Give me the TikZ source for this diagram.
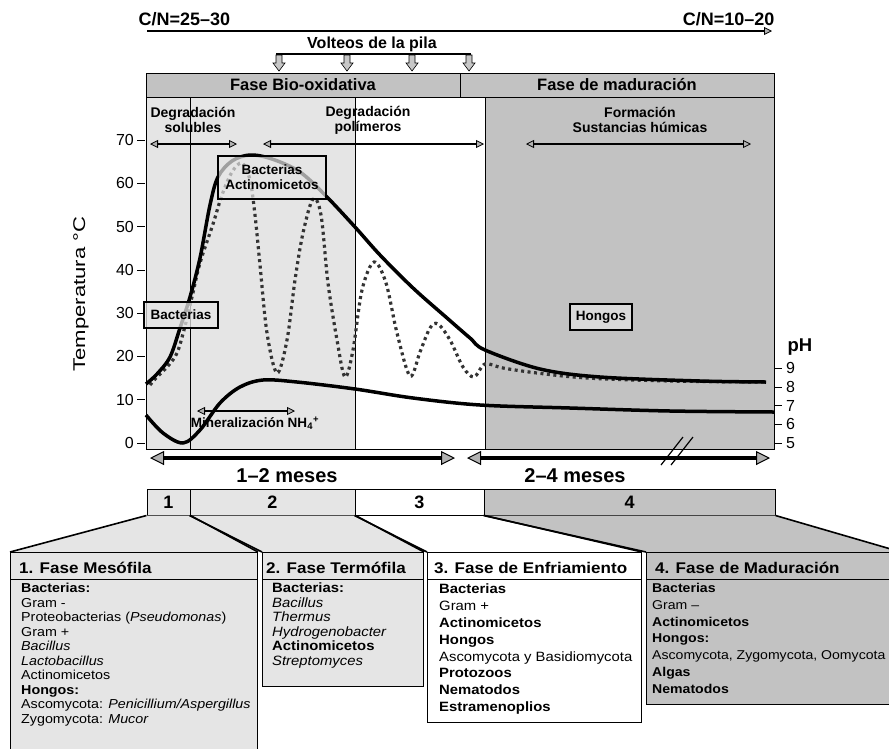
\documentclass[tikz,border=0pt]{standalone}
\usepackage{fontspec}
\setmainfont{Liberation Sans}
\newfontfamily\boxfont{Liberation Sans}[FakeStretch=1.1]
\usetikzlibrary{arrows.meta,positioning}

\definecolor{lightdots}{gray}{0.9}
\definecolor{darkdots}{gray}{0.76}

\tikzset{
  gtip/.tip={Triangle[length=8pt,width=8pt,fill=black!30,line width=0.8pt]},
  bigtip/.tip={Triangle[length=14pt,width=14pt,fill=black!30,line width=1pt]},
  cell/.style={draw,line width=1pt,minimum height=26,inner sep=0,font=\bfseries\fontsize{18}{18}\selectfont},
  phasebox/.style={draw,line width=1pt,anchor=north west,inner sep=0},
  boxtitle/.style={anchor=west,inner sep=0,font=\boxfont\bfseries\fontsize{15.5}{17}\selectfont},
  items/.style={anchor=north west,inner sep=0,align=left},
  tag/.style={draw,line width=1.2pt,inner sep=0,align=center,text opacity=1,font=\bfseries\fontsize{13.5}{15}\selectfont},
  label/.style={align=center,font=\bfseries\fontsize{14}{15}\selectfont},
  link/.style={line width=1.6pt},
  tempcurve/.style={line width=3.5pt,line join=round},
  tempdots/.style={line width=3.2pt,draw=black!80,dash pattern=on 3pt off 3.5pt},
  phcurve/.style={line width=3.5pt,line join=round}
}

\begin{document}
\begin{tikzpicture}[x=1pt,y=-1pt]
        \useasboundingbox (0,0) rectangle (889,748);
        \clip (0,0) rectangle (889,748);

        % C/N ratio
        \node[anchor=west,font=\bfseries\fontsize{18}{20}\selectfont] (cnstart) at (135,19) {C/N=25–30};
        \node[anchor=east,font=\bfseries\fontsize{18}{20}\selectfont] (cnend) at (778,19) {C/N=10–20};
        \coordinate (cnfrom) at (147,31);
        \coordinate (cnto) at (772,31);
        \draw[line width=2pt,-gtip] (cnfrom) -- (cnto);

        % Volteos de la pila
        \node[font=\bfseries\fontsize{16}{18}\selectfont] (volteos) at (372,44) {Volteos de la pila};
        \draw[line width=1.6pt] (276,54) -- (471,54);
        \foreach \x in {279,347,412,469}
            \filldraw[fill=black!22,line width=0.6pt] ({\x-3},55) -- ({\x+3},55) -- ({\x+3},63) -- ({\x+6},63)
                -- (\x,71) -- ({\x-6},63) -- ({\x-3},63) -- cycle;

        % Backgrounds of the phases
        \fill[darkdots] (146,73) rectangle (774,97);
        \fill[lightdots] (146,97) rectangle (355,449);
        \fill[darkdots] (485,97) rectangle (774,449);
        \draw[line width=1pt] (146,73) rectangle (774,449);
        \draw[line width=1pt] (146,97) -- (774,97);
        \draw[line width=1pt] (460,73) -- (460,97);
        \foreach \x in {190,355,485}
            \draw[line width=0.8pt] (\x,97) -- (\x,449);
        \node[font=\bfseries\fontsize{16.5}{18}\selectfont] (bio) at (303,85) {Fase Bio-oxidativa};
        \node[font=\bfseries\fontsize{16.5}{18}\selectfont] (mad) at (617,85) {Fase de maduración};

        % Degradation arrows
        \node[label] (degsol) at (193,120) {Degradación\\solubles};
        \node[label] (degpol) at (368,120) {Degradación\\polímeros};
        \node[label] (form) at (640,120) {Formación\\Sustancias húmicas};
        \draw[line width=1.6pt,gtip-gtip] (150,144) -- (237,144);
        \draw[line width=1.6pt,gtip-gtip] (263,144) -- (484,144);
        \draw[line width=1.6pt,gtip-gtip] (526,144) -- (751,144);

        % Temperature axis
        \foreach \t in {0,10,...,70} {
            \draw[line width=0.6pt] (137,{443-4.33*\t}) -- (145,{443-4.33*\t});
            \node[anchor=east,inner sep=0,font=\fontsize{16}{18}\selectfont] at (134,{443-4.33*\t}) {\t};
        }
        \node[rotate=90,font=\fontsize{17}{20}\selectfont] (templabel) at (81,294) {\scalebox{1.3}[1]{Temperatura °C}};

        % pH axis
        \foreach \p in {5,...,9} {
            \draw[line width=0.6pt] (775,{443-18.7*(\p-5)}) -- (782,{443-18.7*(\p-5)});
            \node[anchor=west,inner sep=0,font=\fontsize{16}{18}\selectfont] at (786,{443-18.7*(\p-5)}) {\p};
        }
        \node[font=\bfseries\fontsize{18.5}{20}\selectfont] (ph) at (800,347) {pH};

        % Temperature with turning
        \draw[tempdots] plot[smooth,tension=0.55] coordinates {(150,385) (157,377) (168,366) (177,353) (184,330)
            (192,297) (200,263) (213,224) (222,195) (232,172) (242,163) (250,180) (255,215) (260,265)
            (267,333) (277,373) (287,340) (295,280) (303,233) (313,199) (321,215) (328,283) (337,340)
            (345,377) (353,350) (362,290) (374,262) (386,283) (397,333) (410,376) (420,352) (430,328)
            (438,324) (450,340) (463,367) (474,377) (485,364) (503,368) (537,373) (587,378) (670,381) (764,382)};

        % Temperature without turning
        \draw[tempcurve] plot[smooth,tension=0.55] coordinates {(146,384) (157,374) (170,357) (180,328)
            (190,297) (200,258) (210,205) (218,177) (232,161) (250,155) (272,159) (300,172) (326,196)
            (355,227) (380,255) (413,288) (447,318) (470,338) (485,350) (540,369) (600,377) (700,381) (766,382)};

        % pH
        \draw[phcurve] plot[smooth,tension=0.55] coordinates {(146,415) (163,433) (183,443) (200,430)
            (220,403) (240,387) (263,380) (297,382) (355,389) (413,398) (480,405) (570,408) (670,411) (774,412)};

        % Microorganisms on the chart
        \node[tag,fill=lightdots,fill opacity=0.75,minimum width=74,minimum height=26] (bact) at (181,315) {Bacterias};
        \node[tag,fill=lightdots,fill opacity=0.7,minimum width=108,minimum height=43] (bactact) at (272,177.5) {Bacterias\\Actinomicetos};
        \node[tag,fill=white,fill opacity=0.4,minimum width=62,minimum height=26] (hongos) at (601,317) {Hongos};

        % Mineralization
        \draw[line width=1.6pt,gtip-gtip] (197,411) -- (295,411);
        \node[font=\bfseries\fontsize{13.5}{15}\selectfont] (miner) at (255,423) {Mineralización NH\textsubscript{4}\textsuperscript{+}};

        % Duration
        \draw[line width=3.5pt,bigtip-bigtip] (150,458) -- (455,458);
        \draw[line width=3.5pt,bigtip-bigtip] (467,458) -- (770,458);
        \draw[line width=1.2pt] (661,465) -- (683,437);
        \draw[line width=1.2pt] (671,465) -- (693,437);
        \node[font=\bfseries\fontsize{20}{22}\selectfont] (dur1) at (287,476) {1–2 meses};
        \node[font=\bfseries\fontsize{20}{22}\selectfont] (dur2) at (575,476) {2–4 meses};

        % Phase strip
        \node[cell,fill=lightdots,minimum width=43] (s1) at (168.5,502) {1};
        \node[cell,fill=lightdots,minimum width=165] (s2) at (272.5,502) {2};
        \node[cell,fill=white,minimum width=129] (s3) at (419.5,502) {3};
        \node[cell,fill=darkdots,minimum width=291] (s4) at (629.5,502) {4};

        % Phase boxes
        \coordinate (b1nw) at (10,552);
        \coordinate (b2nw) at (262,552);
        \coordinate (b3nw) at (427,552);
        \coordinate (b4nw) at (646,552);
        \fill[darkdots] (s4.south west) -- (b4nw) -- (900,552) -- (s4.south east) -- cycle;
        \fill[lightdots] (s2.south west) -- (b2nw) -- (423,552) -- (s2.south east) -- cycle;
        \fill[lightdots] (s1.south west) -- (b1nw) -- (257,552) -- (s1.south east) -- cycle;
        \node[phasebox,fill=lightdots,minimum width=247,minimum height=220] (b1) at (b1nw) {};
        \node[phasebox,fill=lightdots,minimum width=161,minimum height=134] (b2) at (b2nw) {};
        \node[phasebox,fill=white,minimum width=214,minimum height=170] (b3) at (b3nw) {};
        \node[phasebox,fill=darkdots,minimum width=254,minimum height=152] (b4) at (b4nw) {};
        \draw[link] (s1.south west) -- (b1.north west);
        \draw[link] (s1.south east) -- (b1.north east);
        \draw[link] (s2.south west) -- (b2.north west);
        \draw[link] (s2.south east) -- (b2.north east);
        \draw[link] (s3.south west) -- (b3.north west);
        \draw[link] (s3.south east) -- (b3.north east);
        \draw[link] (s4.south west) -- (b4.north west);
        \draw[link] (s4.south east) -- (b4.north east);
        \foreach \b in {b1,b2,b3,b4}
            \draw[line width=1pt] ([yshift=-27pt]\b.north west) -- ([yshift=-27pt]\b.north east);

        \node[boxtitle] (t1) at (19,568) {1. Fase Mesófila};
        \node[boxtitle] (t2) at (266,568) {2. Fase Termófila};
        \node[boxtitle] (t3) at (434,568) {3. Fase de Enfriamiento};
        \node[boxtitle] (t4) at (655,568) {4. Fase de Maduración};

        \node[items,font=\boxfont\fontsize{13}{14.5}\selectfont] (l1) at (21,583) {\textbf{Bacterias:}\\Gram -\\Proteobacterias (\textit{Pseudomonas})\\Gram +\\\textit{Bacillus}\\\textit{Lactobacillus}\\Actinomicetos\\\textbf{Hongos:}\\Ascomycota: \textit{Penicillium/Aspergillus}\\Zygomycota: \textit{Mucor}};
        \node[items,font=\boxfont\fontsize{13.5}{14.5}\selectfont] (l2) at (272,583) {\textbf{Bacterias:}\\\textit{Bacillus}\\\textit{Thermus}\\\textit{Hydrogenobacter}\\\textbf{Actinomicetos}\\\textit{Streptomyces}};
        \node[items,font=\boxfont\fontsize{13.5}{16.8}\selectfont] (l3) at (439,584) {\textbf{Bacterias}\\Gram +\\\textbf{Actinomicetos}\\\textbf{Hongos}\\Ascomycota y Basidiomycota\\\textbf{Protozoos}\\\textbf{Nematodos}\\\textbf{Estramenoplios}};
        \node[items,font=\boxfont\fontsize{12.8}{16.8}\selectfont] (l4) at (652,583) {\textbf{Bacterias}\\Gram –\\\textbf{Actinomicetos}\\\textbf{Hongos:}\\Ascomycota, Zygomycota, Oomycota\\\textbf{Algas}\\\textbf{Nematodos}};
    \end{tikzpicture}
\end{document}
